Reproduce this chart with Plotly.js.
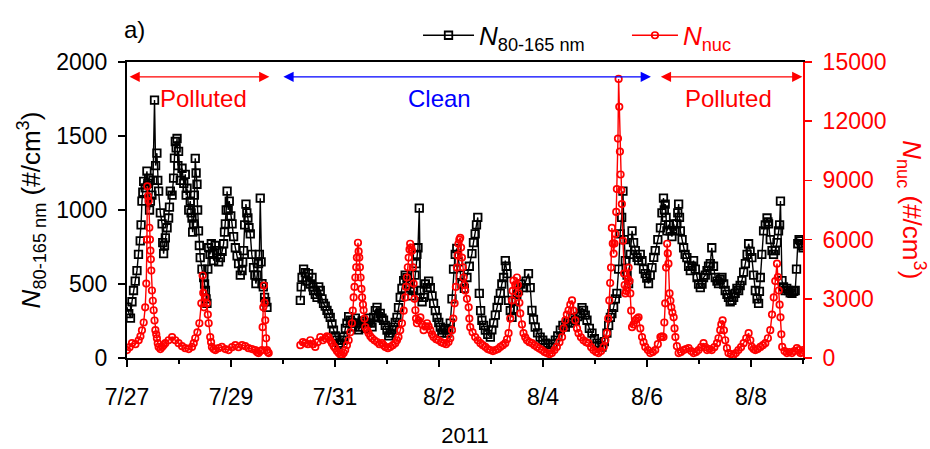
<!DOCTYPE html>
<html><head><meta charset="utf-8">
<script src="https://cdn.plot.ly/plotly-3.0.1.min.js"></script>
<style>html,body{margin:0;padding:0;background:#fff}#chart{width:930px;height:449px}</style>
</head><body><div id="chart"></div>
<script>
// hours since 2011-07-27 00:00 and values (null = data gap)
const blackHours = [0,0.8,1.6,2.3,3.0,3.8,4.6,5.3,6.1,6.5,6.9,7.3,7.7,8.4,9.2,9.6,10.0,10.4,10.8,11.5,12.0,12.7,13.2,13.8,14.2,14.6,15.4,16.2,16.5,16.9,17.3,17.7,18.5,19.2,19.6,20.0,20.8,21.5,21.9,22.3,22.7,23.1,23.5,23.8,24.6,25.4,26.2,26.9,27.3,27.7,28.5,29.2,29.6,30.0,30.3,30.7,31.1,31.5,31.9,32.3,32.6,33.0,33.4,33.8,34.6,35.4,35.8,36.2,36.5,36.9,37.3,37.7,38.3,38.9,39.5,40.0,40.7,41.5,42.3,43.1,43.9,44.6,45.0,45.4,45.8,46.2,46.7,47.2,47.9,48.5,49.2,50.0,50.8,51.5,52.3,53.1,53.4,53.8,54.3,54.9,55.3,55.8,56.3,56.9,57.6,58.4,59.0,59.5,60.1,60.7,61.1,61.5,61.9,62.3,62.9,63.5,64.0,64.6,
72,
80.0,80.4,80.8,81.5,82.3,83.0,83.8,84.6,85.4,85.8,86.1,86.9,87.7,88.5,89.2,90.0,90.7,91.5,92.3,93.0,93.8,94.6,95.3,96.1,96.9,97.7,98.4,99.2,100.0,100.8,101.5,102.3,103.1,103.9,104.6,105.4,106.1,106.9,107.7,108.5,109.2,110.0,110.8,111.5,112.3,113.1,113.8,114.6,115.4,116.1,116.9,117.7,118.4,119.2,120.0,120.8,121.5,122.3,123.0,123.8,124.6,125.3,126.1,126.9,127.7,128.4,129.2,129.9,130.7,131.5,132.3,132.9,133.4,133.8,134.3,134.9,135.4,136.2,136.9,137.7,138.5,139.2,140.0,140.8,141.5,142.3,143.1,143.9,144.6,145.3,146.1,146.9,147.7,148.5,149.2,150.0,150.7,151.5,152.2,153.0,153.8,154.6,155.7,156.9,158.0,159.2,159.9,160.7,161.3,161.9,162.6,163.2,163.8,164.6,165.4,166.5,167.7,168.4,169.2,170.0,170.8,171.5,172.3,173.0,173.8,174.6,175.0,175.4,176.1,176.9,177.7,178.4,179.2,179.9,180.7,181.8,183.0,184.2,185.3,186.1,186.9,187.6,188.4,189.5,190.7,191.9,193.1,194.2,195.4,196.5,197.7,198.8,200.0,201.2,202.3,203.5,204.6,205.8,206.9,208.0,209.2,210.0,210.7,211.5,212.3,213.4,214.6,215.7,216.9,218.0,219.2,220.3,221.5,222.3,223.1,223.8,224.6,225.4,226.1,226.9,227.6,228.3,228.9,229.5,230.0,230.8,231.5,232.3,233.1,233.8,234.6,235.4,236.1,236.9,237.7,238.4,239.2,239.9,240.7,241.5,242.3,243.1,243.8,245.0,246.2,246.9,247.6,248.0,248.4,248.8,249.2,250.0,250.7,251.5,252.3,253.0,253.8,254.2,254.6,255.0,255.4,256.2,256.9,257.6,258.4,259.2,260.0,260.8,261.5,262.3,263.1,263.8,264.6,265.4,266.1,266.9,267.7,268.4,269.2,269.9,270.7,271.5,272.3,273.0,273.8,274.6,275.4,276.1,276.9,277.6,278.4,279.2,280.0,280.7,281.5,282.3,283.0,283.8,284.6,285.4,286.2,286.9,287.6,288.4,289.2,290.0,290.8,291.5,291.9,292.3,293.0,293.8,294.6,295.4,295.8,296.1,296.9,297.7,298.4,299.2,300.0,300.7,301.2,301.6,302.3,303.0,303.8,304.5,305.3,306.1,306.9,307.7,308.4,309.0,309.6,310.2,310.8,311.4,312.0];
const blackValues = [344,300,270,380,456,520,590,700,792,900,1060,1120,1194,1150,1262,1180,1215,1000,1060,1100,1200,1743,1300,1384,1200,1127,980,906,780,705,760,812,880,946,1020,1127,1100,1215,1350,1463,1420,1483,1300,1396,1200,1282,1180,1241,1100,1147,1000,1060,980,946,850,906,1100,1349,1250,1174,1000,859,760,678,600,544,500,456,400,369,600,745,700,772,700,658,760,725,650,678,720,772,850,906,1000,1127,1000,1060,960,906,820,745,690,638,560,590,650,725,900,1040,980,946,880,839,700,611,560,503,560,638,700,1080,650,503,480,409,380,342,
null,
389,480,544,600,577,520,570,500,544,480,456,430,409,480,456,400,369,350,322,300,275,230,188,150,121,90,101,120,141,200,235,280,255,210,235,270,235,190,208,250,235,200,235,270,235,210,275,320,342,280,302,270,255,220,188,150,168,190,208,240,275,340,409,470,523,560,544,500,476,420,456,560,638,700,745,1013,456,380,409,500,476,520,476,420,369,320,275,240,208,170,188,200,168,190,235,400,600,700,740,650,560,500,470,544,620,705,780,839,900,950,436,320,255,220,188,160,141,190,235,290,342,390,436,500,544,658,620,570,389,320,275,330,389,430,456,500,476,520,570,476,322,260,208,170,141,120,101,90,74,95,121,150,188,220,208,240,235,270,255,280,302,340,322,290,255,200,168,130,101,85,74,110,168,220,275,300,342,400,436,600,839,950,1127,800,658,560,503,700,859,780,725,680,658,700,658,600,570,540,503,560,611,680,725,800,879,980,1080,1000,1040,950,859,900,859,820,906,860,906,980,1040,950,859,800,745,700,678,620,590,620,658,600,544,500,476,500,544,560,590,620,638,745,620,544,520,503,530,544,500,456,430,409,380,389,410,436,470,456,490,523,580,638,700,772,720,678,560,456,400,369,450,544,700,859,900,946,920,906,800,725,700,725,780,859,900,1060,523,480,456,470,456,440,436,450,456,600,772,800,792,760,745];

const redHours = [0,1.2,2.3,3.9,5.4,6.2,6.9,7.7,8.4,8.9,9.2,9.4,9.7,10.0,10.3,10.6,10.8,11.0,11.2,11.5,11.9,12.3,12.7,13.1,13.5,13.8,14.2,14.6,15.4,16.2,16.9,17.7,19.2,20.8,22.3,23.8,25.4,26.9,28.5,30.0,30.8,31.5,32.5,33.4,34.3,34.9,35.2,35.5,36.2,36.9,37.3,37.7,38.4,38.8,39.2,40.0,40.8,42.3,43.8,45.4,46.9,48.5,50.0,51.5,53.1,54.6,56.1,57.7,59.2,60.0,60.7,61.5,62.3,62.6,62.9,63.2,63.5,63.8,64.2,64.6,65.0,65.4,
72,
80.0,81.2,82.3,83.5,84.6,85.8,86.9,88.0,89.2,90.4,91.5,92.3,93.0,93.8,94.6,95.4,96.1,96.9,97.7,98.5,99.2,100.0,100.7,101.5,102.3,103.1,103.8,104.2,104.6,105.0,105.4,105.8,106.1,106.6,106.9,107.2,107.5,107.8,108.2,108.5,108.9,109.2,109.6,110.0,110.8,111.5,112.3,113.1,114.2,115.4,116.5,117.7,118.4,119.2,120.4,121.5,122.7,123.8,124.6,125.3,126.1,126.9,127.7,128.4,128.8,129.2,129.6,130.0,130.4,130.7,131.1,131.5,131.9,132.3,132.7,133.1,133.4,133.8,134.6,135.4,136.2,136.9,137.7,138.5,139.2,140.0,140.8,141.5,142.7,143.8,145.0,146.1,147.3,148.4,149.2,150.0,150.6,151.2,151.8,152.3,152.6,153.0,153.4,153.8,154.2,154.6,155.0,155.3,155.7,156.1,156.9,157.7,158.0,158.4,159.5,160.7,161.9,163.1,164.2,165.4,166.5,167.7,168.9,170.0,171.2,172.3,173.5,174.6,175.4,176.1,176.9,177.7,178.0,178.4,179.2,180.0,180.4,180.7,181.1,181.5,182.3,183.0,183.8,184.6,185.7,186.9,188.0,189.2,190.3,191.5,192.7,193.8,195.0,196.1,197.3,198.4,199.6,200.8,201.5,202.3,203.0,203.8,204.6,205.4,206.1,206.9,207.7,208.4,209.5,210.7,211.9,213.0,214.2,215.3,216.5,217.6,218.8,220.0,220.8,221.5,222.1,222.6,223.0,223.4,223.8,224.2,224.6,225.0,225.4,225.8,226.1,226.6,226.9,227.2,227.5,227.8,228.1,228.4,228.9,229.4,229.7,230.0,230.4,230.8,231.2,231.5,231.9,232.3,232.7,233.1,233.8,234.6,235.4,236.1,236.9,237.7,238.4,239.2,240.4,241.5,242.7,243.8,245.0,246.2,246.9,247.6,248.0,248.4,248.8,249.3,249.6,249.9,250.4,250.8,251.2,251.7,252.3,252.7,253.1,253.8,254.6,255.7,256.9,258.0,259.2,260.4,261.5,262.7,263.8,265.0,266.1,266.9,267.7,268.8,269.9,271.1,272.3,273.0,273.8,274.3,274.9,275.5,276.1,276.9,277.6,278.8,279.9,281.0,282.2,283.4,284.6,285.8,286.9,287.7,288.4,289.2,290.0,291.1,292.3,293.5,294.6,295.8,296.9,297.7,298.5,299.2,300.0,300.4,300.8,301.2,301.6,302.0,302.4,303.5,304.6,305.7,306.9,308.0,309.2,310.0,310.8,311.4,312.0];
const redValues = [400,550,750,700,900,1100,1400,1800,2570,3770,6000,8700,8200,7950,6600,6000,5440,5000,4430,3420,2900,2420,1900,1410,1200,1000,750,560,450,560,650,750,900,1060,900,750,600,500,450,560,750,1000,1300,1760,2770,4180,3300,2570,3070,2770,2200,1760,1060,800,560,450,400,500,560,450,400,550,650,550,650,600,500,450,400,300,250,350,400,1560,2570,3670,2800,1910,1000,400,300,250,
null,
650,800,750,700,900,700,560,800,1060,900,1000,1100,1060,900,750,600,500,350,250,180,150,250,400,650,900,1300,1760,2400,3070,3600,4080,4600,5090,5840,5400,5090,4600,4080,3500,3070,2700,2420,2000,1560,1400,1260,1100,1000,900,810,700,750,650,560,500,560,650,750,900,1060,1400,1760,2400,3070,3600,4080,4600,5090,5500,5790,5600,5440,4600,3770,3000,2420,2000,1760,1900,2060,1700,1410,1600,1760,1600,1410,1200,1060,950,900,800,750,700,810,1000,1410,2000,2770,3600,4580,5200,5790,6000,6090,5600,5090,4600,4080,3700,3420,3000,2570,2000,1560,1300,1060,900,750,650,560,450,400,350,400,450,560,650,750,950,1260,2000,2920,3400,3920,3700,4080,3700,3270,2800,2260,1700,1260,1050,900,800,750,650,560,480,400,300,250,200,250,400,560,800,1060,1500,1910,2200,2420,2700,2920,2400,1910,1500,1260,1050,900,800,750,550,400,300,250,350,560,900,1260,2000,2920,3800,4580,6590,5800,5290,5800,6290,7400,8560,11120,14140,12730,10460,9300,8500,7800,5940,4280,3700,3270,3400,3570,4000,4580,3900,3270,2400,1560,1700,1910,2000,2060,1500,1060,800,560,400,250,300,400,700,1060,1100,1060,1800,2770,4580,5790,5300,4780,3270,2900,2570,2300,2060,1500,1060,600,250,300,400,450,500,350,250,300,400,550,750,550,400,450,400,550,750,1000,1410,1700,1910,1400,900,500,250,200,150,250,400,550,750,1000,1260,900,560,450,400,450,560,650,750,1000,1410,2200,3070,3900,4780,4100,3420,2700,2060,1200,560,350,250,300,250,350,500,400,250,300,400];

const xTickDates = ['2011-07-27','2011-07-29','2011-07-31','2011-08-02','2011-08-04','2011-08-06','2011-08-08'];
const xTickLabels = ['7/27','7/29','7/31','8/2','8/4','8/6','8/8'];
const leftTicks = [0,500,1000,1500,2000];
const rightTicks = [0,3000,6000,9000,12000,15000];

function toDate(h){
  const ms = Date.UTC(2011,6,27) + h*3600000;
  return new Date(ms).toISOString().slice(0,19).replace('T',' ');
}

const FONT = '"Liberation Sans", Arial, sans-serif';

const traces = [
  {x: blackHours.map(toDate), y: blackValues, type:'scatter', mode:'lines+markers',
   name:'<i>N</i><sub>80-165 nm</sub>', legend:'legend',
   line:{color:'black', width:1.4},
   marker:{symbol:'square-open', size:7.5, color:'black', line:{width:1.8, color:'black'}}},
  {x: redHours.map(toDate), y: redValues, type:'scatter', mode:'lines+markers', yaxis:'y2',
   name:'<i>N</i><sub>nuc</sub>', legend:'legend2',
   line:{color:'red', width:1.4},
   marker:{symbol:'circle-open', size:6.5, color:'red', line:{width:1.7, color:'red'}}}
];

function arrow(x0, x1, color){
  return {xref:'x', yref:'y', axref:'x', ayref:'y', x:x1, y:1900, ax:x0, ay:1900, text:'',
    showarrow:true, arrowhead:2, startarrowhead:2, arrowside:'end+start', arrowsize:1.7, startarrowsize:1.7,
    arrowwidth:1.2, arrowcolor:color, standoff:0, startstandoff:0};
}

const layout = {
  width:930, height:449,
  margin:{l:127, r:127, t:60, b:91},
  paper_bgcolor:'white', plot_bgcolor:'white',
  font:{family:FONT, size:23, color:'black'},
  showlegend:true,
  xaxis:{type:'date', range:['2011-07-27','2011-08-09'], tickmode:'array', tickvals:xTickDates, ticktext:xTickLabels,
    ticks:'outside', ticklen:7, tickwidth:1.5, tickcolor:'black', showline:true, linecolor:'black', linewidth:2,
    mirror:true, showgrid:false, zeroline:false, ticklabelstandoff:10,
    minor:{tickmode:'linear', tick0:'2011-07-27', dtick:86400000, ticks:'outside', ticklen:4, tickwidth:1.5, tickcolor:'black', showgrid:false},
    tickfont:{size:23}, title:{text:'2011', font:{size:22}, standoff:19}},
  yaxis:{range:[0,2000], tickmode:'array', tickvals:leftTicks, ticktext:leftTicks.map(String), ticks:'outside', ticklen:7, tickwidth:1.5, tickcolor:'black',
    showline:true, linecolor:'black', linewidth:2, showgrid:false, zeroline:false, ticklabelstandoff:6,
    tickfont:{size:23}, title:{text:'<i>N</i><sub>80-165 nm</sub> (#/cm<sup>3</sup>)', font:{size:26}, standoff:8}},
  yaxis2:{range:[0,15000], overlaying:'y', side:'right', tickmode:'array', tickvals:rightTicks, ticktext:rightTicks.map(String), ticks:'outside', ticklen:7,
    tickwidth:1.5, tickcolor:'red', showline:true, linecolor:'red', linewidth:2, showgrid:false, zeroline:false,
    ticklabelstandoff:6, tickfont:{size:23, color:'red'}},
  legend:{x:0.4305, y:1.09, xanchor:'left', yanchor:'middle', orientation:'h', itemwidth:51,
    font:{size:26, color:'black'}, bgcolor:'rgba(0,0,0,0)'},
  legend2:{x:0.7396, y:1.09, xanchor:'left', yanchor:'middle', orientation:'h', itemwidth:46,
    font:{size:26, color:'red'}, bgcolor:'rgba(0,0,0,0)'},
  annotations:[
    arrow('2011-07-27 00:30','2011-07-29 17:42','red'),
    arrow('2011-07-29 23:30','2011-08-06 01:48','blue'),
    arrow('2011-08-06 05:42','2011-08-08 23:42','red'),
    {xref:'x', yref:'y', x:'2011-07-28 11:18', y:1752, text:'Polluted', showarrow:false, font:{size:24, color:'red'}},
    {xref:'x', yref:'y', x:'2011-08-02 00:12', y:1752, text:'Clean', showarrow:false, font:{size:24, color:'blue'}},
    {xref:'x', yref:'y', x:'2011-08-07 13:30', y:1752, text:'Polluted', showarrow:false, font:{size:24, color:'red'}},
    {xref:'paper', yref:'paper', x:-0.0074, y:1.1107, xanchor:'left', yanchor:'middle', text:'a)', showarrow:false, font:{size:24, color:'black'}},
    {xref:'paper', yref:'paper', x:1.161, y:0.5, xanchor:'center', yanchor:'middle', textangle:90,
     text:'<i>N</i><sub>nuc</sub> (#/cm<sup>3</sup>)', showarrow:false, font:{size:26, color:'red'}}
  ]
};

Plotly.newPlot('chart', traces, layout, {displayModeBar:false, staticPlot:true});
</script>
</body></html>
